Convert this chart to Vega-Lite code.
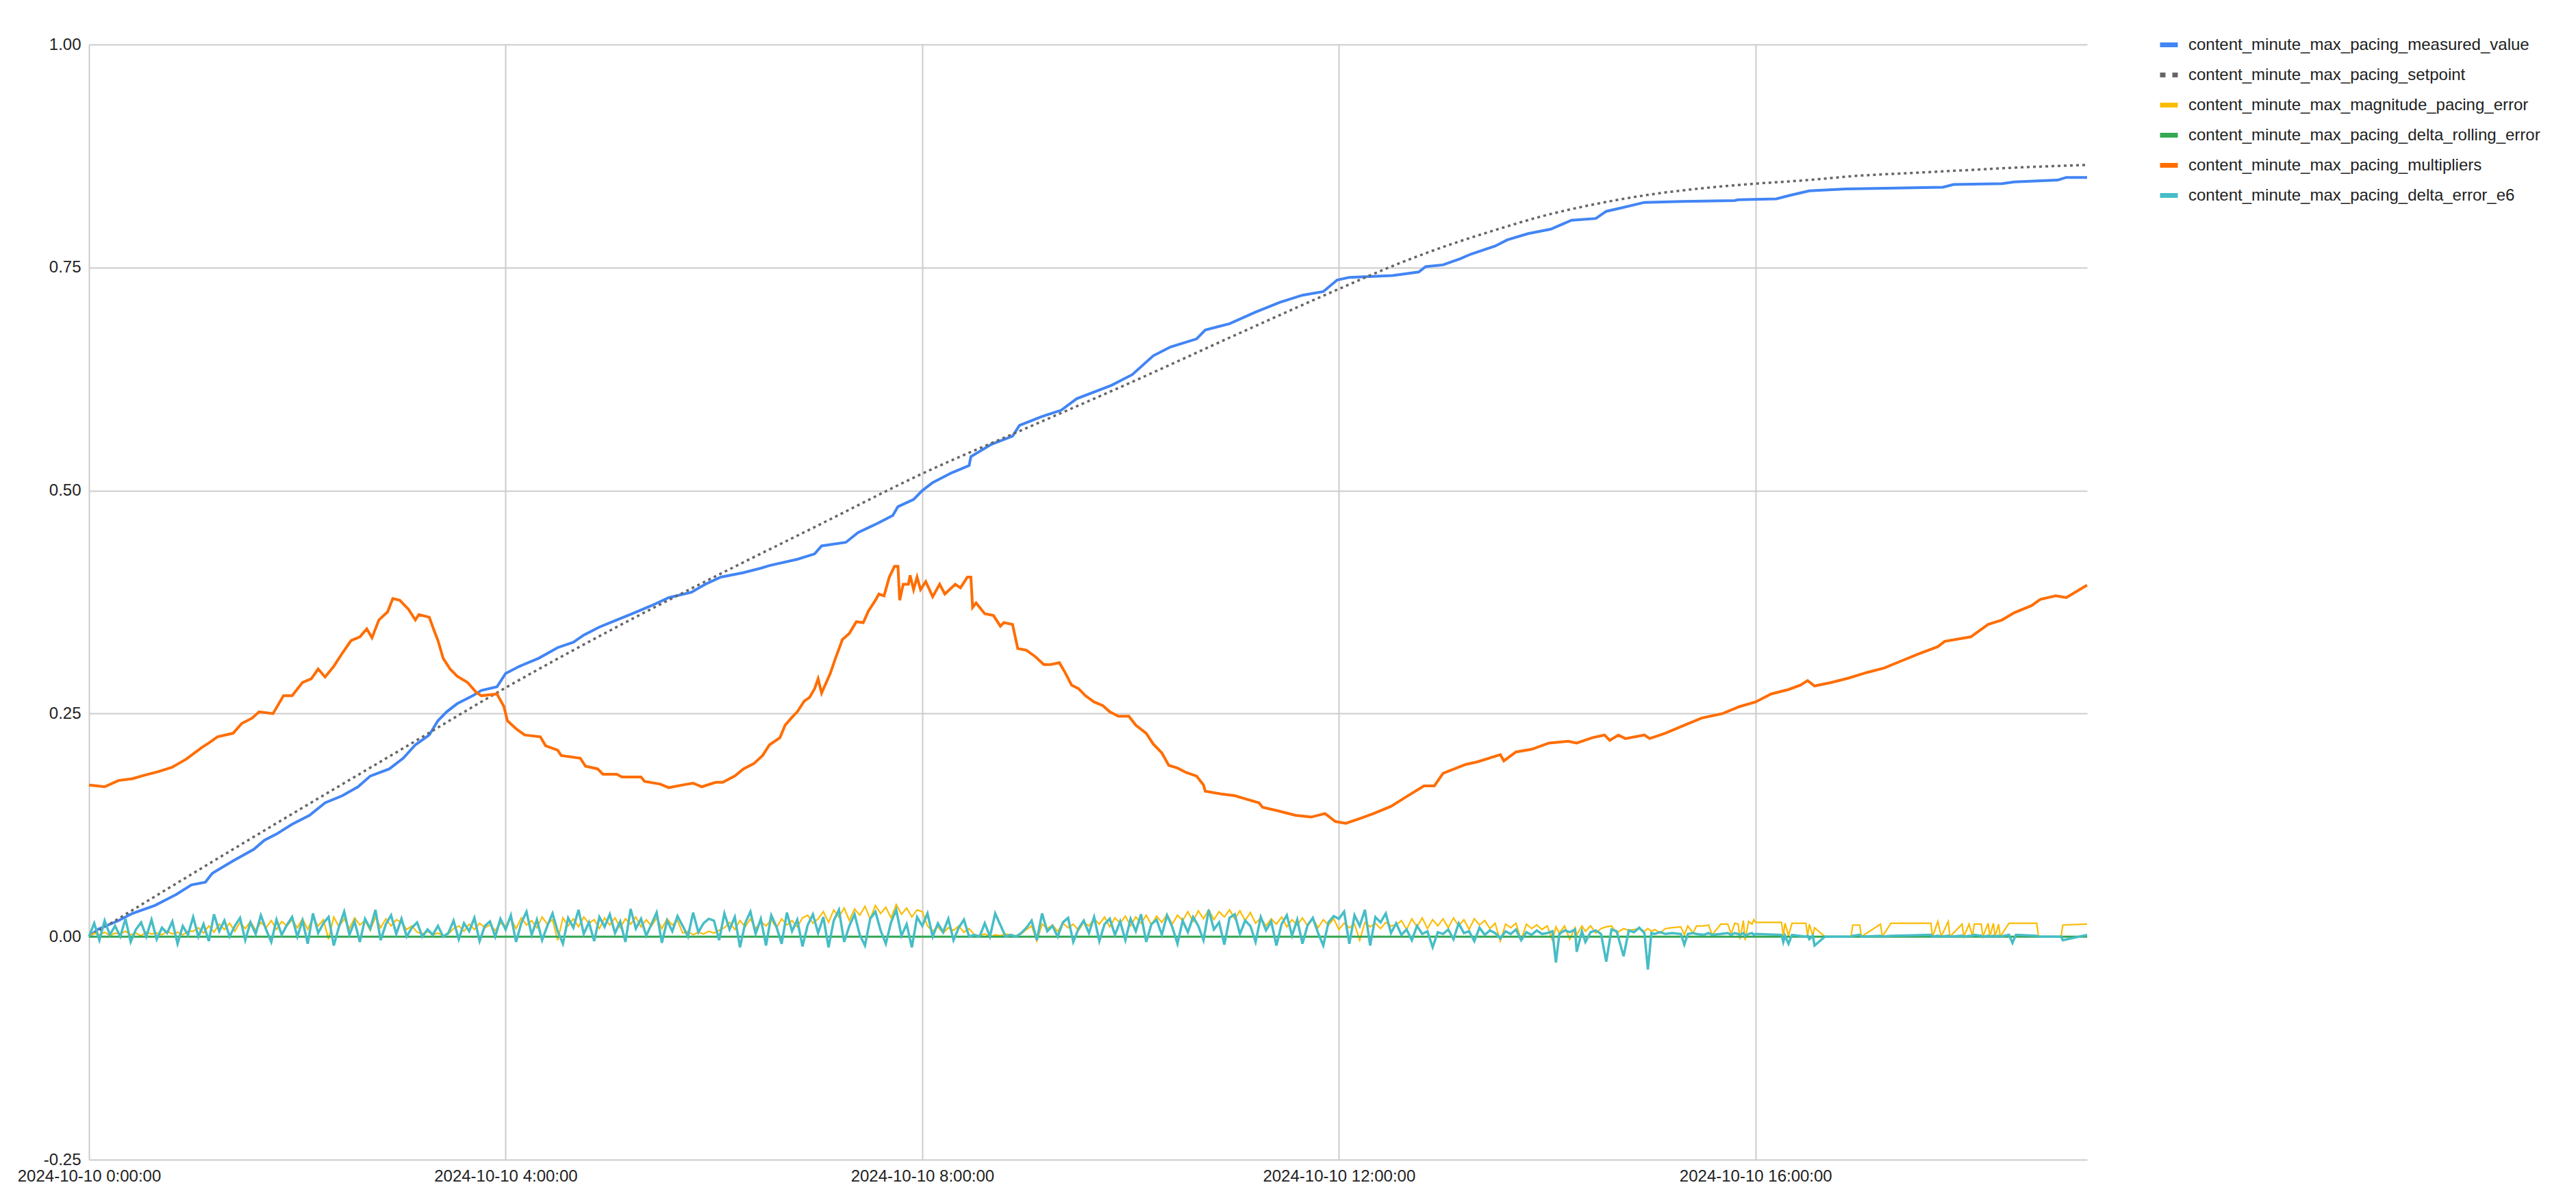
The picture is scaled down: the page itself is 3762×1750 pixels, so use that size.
{
  "$schema": "https://vega.github.io/schema/vega-lite/v6.json",
  "width": 2918,
  "height": 1629,
  "autosize": {"type": "none"},
  "padding": {"left": 130, "top": 65, "right": 714, "bottom": 56},
  "background": "white",
  "config": {
    "view": {"stroke": null},
    "font": "Liberation Sans",
    "locale": {"number": {"decimal": ".", "thousands": ",", "grouping": [3], "currency": ["$", ""], "minus": "-"}},
    "axis": {"labelFont": "Liberation Sans", "labelFontSize": 24, "labelColor": "#222222", "grid": true, "gridColor": "#cccccc", "gridWidth": 2, "domain": false, "ticks": false}
  },
  "datasets": {
    "mv": [
      {"t":"2024-10-10T00:00","v":0},{"t":"2024-10-10T00:05","v":0.008},{"t":"2024-10-10T00:17","v":0.018},{"t":"2024-10-10T00:25","v":0.026},{"t":"2024-10-10T00:38","v":0.035},{"t":"2024-10-10T00:50","v":0.047},{"t":"2024-10-10T00:59","v":0.058},{"t":"2024-10-10T01:07","v":0.061},{"t":"2024-10-10T01:11","v":0.071},{"t":"2024-10-10T01:23","v":0.085},{"t":"2024-10-10T01:35","v":0.098},{"t":"2024-10-10T01:41","v":0.108},{"t":"2024-10-10T01:48","v":0.115},{"t":"2024-10-10T01:57","v":0.126},{"t":"2024-10-10T02:07","v":0.136},{"t":"2024-10-10T02:16","v":0.15},{"t":"2024-10-10T02:26","v":0.158},{"t":"2024-10-10T02:35","v":0.168},{"t":"2024-10-10T02:42","v":0.18},{"t":"2024-10-10T02:53","v":0.188},{"t":"2024-10-10T03:01","v":0.2},{"t":"2024-10-10T03:08","v":0.215},{"t":"2024-10-10T03:16","v":0.226},{"t":"2024-10-10T03:21","v":0.242},{"t":"2024-10-10T03:26","v":0.252},{"t":"2024-10-10T03:32","v":0.261},{"t":"2024-10-10T03:41","v":0.27},{"t":"2024-10-10T03:46","v":0.276},{"t":"2024-10-10T03:55","v":0.28},{"t":"2024-10-10T04:00","v":0.295},{"t":"2024-10-10T04:08","v":0.303},{"t":"2024-10-10T04:19","v":0.312},{"t":"2024-10-10T04:30","v":0.324},{"t":"2024-10-10T04:39","v":0.33},{"t":"2024-10-10T04:45","v":0.338},{"t":"2024-10-10T04:54","v":0.347},{"t":"2024-10-10T05:04","v":0.355},{"t":"2024-10-10T05:13","v":0.362},{"t":"2024-10-10T05:24","v":0.371},{"t":"2024-10-10T05:34","v":0.38},{"t":"2024-10-10T05:47","v":0.386},{"t":"2024-10-10T05:55","v":0.395},{"t":"2024-10-10T06:04","v":0.403},{"t":"2024-10-10T06:17","v":0.408},{"t":"2024-10-10T06:27","v":0.413},{"t":"2024-10-10T06:32","v":0.416},{"t":"2024-10-10T06:48","v":0.423},{"t":"2024-10-10T06:58","v":0.429},{"t":"2024-10-10T07:02","v":0.438},{"t":"2024-10-10T07:16","v":0.442},{"t":"2024-10-10T07:23","v":0.453},{"t":"2024-10-10T07:34","v":0.463},{"t":"2024-10-10T07:43","v":0.472},{"t":"2024-10-10T07:46","v":0.482},{"t":"2024-10-10T07:55","v":0.49},{"t":"2024-10-10T08:00","v":0.5},{"t":"2024-10-10T08:06","v":0.509},{"t":"2024-10-10T08:17","v":0.52},{"t":"2024-10-10T08:27","v":0.528},{"t":"2024-10-10T08:28","v":0.538},{"t":"2024-10-10T08:40","v":0.552},{"t":"2024-10-10T08:52","v":0.561},{"t":"2024-10-10T08:56","v":0.573},{"t":"2024-10-10T09:09","v":0.583},{"t":"2024-10-10T09:20","v":0.59},{"t":"2024-10-10T09:29","v":0.603},{"t":"2024-10-10T09:49","v":0.618},{"t":"2024-10-10T10:01","v":0.63},{"t":"2024-10-10T10:13","v":0.651},{"t":"2024-10-10T10:23","v":0.661},{"t":"2024-10-10T10:38","v":0.67},{"t":"2024-10-10T10:43","v":0.68},{"t":"2024-10-10T10:57","v":0.687},{"t":"2024-10-10T11:12","v":0.7},{"t":"2024-10-10T11:26","v":0.711},{"t":"2024-10-10T11:39","v":0.719},{"t":"2024-10-10T11:51","v":0.723},{"t":"2024-10-10T11:59","v":0.736},{"t":"2024-10-10T12:06","v":0.739},{"t":"2024-10-10T12:31","v":0.741},{"t":"2024-10-10T12:46","v":0.745},{"t":"2024-10-10T12:50","v":0.751},{"t":"2024-10-10T13:00","v":0.753},{"t":"2024-10-10T13:10","v":0.76},{"t":"2024-10-10T13:16","v":0.765},{"t":"2024-10-10T13:30","v":0.774},{"t":"2024-10-10T13:37","v":0.781},{"t":"2024-10-10T13:49","v":0.788},{"t":"2024-10-10T14:02","v":0.793},{"t":"2024-10-10T14:14","v":0.803},{"t":"2024-10-10T14:28","v":0.805},{"t":"2024-10-10T14:34","v":0.813},{"t":"2024-10-10T14:43","v":0.817},{"t":"2024-10-10T14:56","v":0.823},{"t":"2024-10-10T15:18","v":0.824},{"t":"2024-10-10T15:48","v":0.825},{"t":"2024-10-10T15:50","v":0.826},{"t":"2024-10-10T16:12","v":0.827},{"t":"2024-10-10T16:20","v":0.831},{"t":"2024-10-10T16:31","v":0.836},{"t":"2024-10-10T16:52","v":0.838},{"t":"2024-10-10T17:48","v":0.84},{"t":"2024-10-10T17:54","v":0.843},{"t":"2024-10-10T18:22","v":0.844},{"t":"2024-10-10T18:29","v":0.846},{"t":"2024-10-10T18:54","v":0.848},{"t":"2024-10-10T18:59","v":0.851},{"t":"2024-10-10T19:11","v":0.851}
    ],
    "sp": [
      {"t":"2024-10-10T00:00","v":0},{"t":"2024-10-10T01:00","v":0.071},{"t":"2024-10-10T02:00","v":0.141},{"t":"2024-10-10T03:00","v":0.21},{"t":"2024-10-10T04:00","v":0.279},{"t":"2024-10-10T05:00","v":0.343},{"t":"2024-10-10T06:00","v":0.403},{"t":"2024-10-10T07:00","v":0.461},{"t":"2024-10-10T08:00","v":0.519},{"t":"2024-10-10T09:00","v":0.57},{"t":"2024-10-10T10:00","v":0.621},{"t":"2024-10-10T11:00","v":0.674},{"t":"2024-10-10T12:00","v":0.726},{"t":"2024-10-10T12:30","v":0.751},{"t":"2024-10-10T13:00","v":0.773},{"t":"2024-10-10T13:30","v":0.792},{"t":"2024-10-10T14:00","v":0.809},{"t":"2024-10-10T14:30","v":0.822},{"t":"2024-10-10T15:00","v":0.832},{"t":"2024-10-10T15:30","v":0.839},{"t":"2024-10-10T16:00","v":0.844},{"t":"2024-10-10T16:30","v":0.848},{"t":"2024-10-10T17:00","v":0.853},{"t":"2024-10-10T17:30","v":0.856},{"t":"2024-10-10T18:00","v":0.859},{"t":"2024-10-10T18:30","v":0.862},{"t":"2024-10-10T19:11","v":0.865}
    ],
    "mu": [
      {"t":"2024-10-10T00:00","v":0.17},{"t":"2024-10-10T00:09","v":0.168},{"t":"2024-10-10T00:17","v":0.175},{"t":"2024-10-10T00:25","v":0.177},{"t":"2024-10-10T00:32","v":0.181},{"t":"2024-10-10T00:40","v":0.185},{"t":"2024-10-10T00:48","v":0.19},{"t":"2024-10-10T00:56","v":0.199},{"t":"2024-10-10T01:05","v":0.212},{"t":"2024-10-10T01:09","v":0.217},{"t":"2024-10-10T01:14","v":0.224},{"t":"2024-10-10T01:23","v":0.228},{"t":"2024-10-10T01:28","v":0.239},{"t":"2024-10-10T01:34","v":0.245},{"t":"2024-10-10T01:38","v":0.252},{"t":"2024-10-10T01:46","v":0.25},{"t":"2024-10-10T01:52","v":0.27},{"t":"2024-10-10T01:57","v":0.27},{"t":"2024-10-10T02:03","v":0.285},{"t":"2024-10-10T02:08","v":0.289},{"t":"2024-10-10T02:12","v":0.3},{"t":"2024-10-10T02:16","v":0.291},{"t":"2024-10-10T02:21","v":0.303},{"t":"2024-10-10T02:26","v":0.318},{"t":"2024-10-10T02:31","v":0.332},{"t":"2024-10-10T02:36","v":0.336},{"t":"2024-10-10T02:40","v":0.345},{"t":"2024-10-10T02:43","v":0.335},{"t":"2024-10-10T02:47","v":0.355},{"t":"2024-10-10T02:52","v":0.364},{"t":"2024-10-10T02:55","v":0.379},{"t":"2024-10-10T02:59","v":0.377},{"t":"2024-10-10T03:04","v":0.367},{"t":"2024-10-10T03:08","v":0.355},{"t":"2024-10-10T03:10","v":0.361},{"t":"2024-10-10T03:16","v":0.358},{"t":"2024-10-10T03:19","v":0.342},{"t":"2024-10-10T03:21","v":0.332},{"t":"2024-10-10T03:24","v":0.312},{"t":"2024-10-10T03:28","v":0.3},{"t":"2024-10-10T03:32","v":0.292},{"t":"2024-10-10T03:38","v":0.285},{"t":"2024-10-10T03:43","v":0.274},{"t":"2024-10-10T03:46","v":0.27},{"t":"2024-10-10T03:55","v":0.272},{"t":"2024-10-10T03:59","v":0.258},{"t":"2024-10-10T04:01","v":0.242},{"t":"2024-10-10T04:06","v":0.233},{"t":"2024-10-10T04:11","v":0.226},{"t":"2024-10-10T04:20","v":0.224},{"t":"2024-10-10T04:23","v":0.214},{"t":"2024-10-10T04:30","v":0.209},{"t":"2024-10-10T04:32","v":0.203},{"t":"2024-10-10T04:43","v":0.2},{"t":"2024-10-10T04:46","v":0.191},{"t":"2024-10-10T04:53","v":0.188},{"t":"2024-10-10T04:56","v":0.182},{"t":"2024-10-10T05:04","v":0.182},{"t":"2024-10-10T05:07","v":0.179},{"t":"2024-10-10T05:18","v":0.179},{"t":"2024-10-10T05:20","v":0.174},{"t":"2024-10-10T05:29","v":0.171},{"t":"2024-10-10T05:34","v":0.167},{"t":"2024-10-10T05:42","v":0.17},{"t":"2024-10-10T05:48","v":0.172},{"t":"2024-10-10T05:53","v":0.168},{"t":"2024-10-10T06:01","v":0.173},{"t":"2024-10-10T06:05","v":0.173},{"t":"2024-10-10T06:12","v":0.18},{"t":"2024-10-10T06:17","v":0.188},{"t":"2024-10-10T06:23","v":0.194},{"t":"2024-10-10T06:28","v":0.203},{"t":"2024-10-10T06:32","v":0.215},{"t":"2024-10-10T06:38","v":0.223},{"t":"2024-10-10T06:41","v":0.237},{"t":"2024-10-10T06:45","v":0.246},{"t":"2024-10-10T06:48","v":0.252},{"t":"2024-10-10T06:52","v":0.264},{"t":"2024-10-10T06:55","v":0.268},{"t":"2024-10-10T06:58","v":0.278},{"t":"2024-10-10T07:00","v":0.289},{"t":"2024-10-10T07:02","v":0.273},{"t":"2024-10-10T07:07","v":0.295},{"t":"2024-10-10T07:10","v":0.312},{"t":"2024-10-10T07:14","v":0.333},{"t":"2024-10-10T07:18","v":0.34},{"t":"2024-10-10T07:22","v":0.353},{"t":"2024-10-10T07:26","v":0.352},{"t":"2024-10-10T07:29","v":0.365},{"t":"2024-10-10T07:33","v":0.377},{"t":"2024-10-10T07:35","v":0.384},{"t":"2024-10-10T07:38","v":0.382},{"t":"2024-10-10T07:41","v":0.403},{"t":"2024-10-10T07:44","v":0.415},{"t":"2024-10-10T07:46","v":0.415},{"t":"2024-10-10T07:47","v":0.377},{"t":"2024-10-10T07:49","v":0.395},{"t":"2024-10-10T07:52","v":0.395},{"t":"2024-10-10T07:53","v":0.405},{"t":"2024-10-10T07:55","v":0.389},{"t":"2024-10-10T07:57","v":0.403},{"t":"2024-10-10T07:59","v":0.389},{"t":"2024-10-10T08:02","v":0.398},{"t":"2024-10-10T08:06","v":0.381},{"t":"2024-10-10T08:10","v":0.395},{"t":"2024-10-10T08:13","v":0.384},{"t":"2024-10-10T08:19","v":0.395},{"t":"2024-10-10T08:22","v":0.391},{"t":"2024-10-10T08:26","v":0.403},{"t":"2024-10-10T08:28","v":0.403},{"t":"2024-10-10T08:29","v":0.369},{"t":"2024-10-10T08:31","v":0.374},{"t":"2024-10-10T08:36","v":0.362},{"t":"2024-10-10T08:41","v":0.36},{"t":"2024-10-10T08:45","v":0.348},{"t":"2024-10-10T08:47","v":0.352},{"t":"2024-10-10T08:52","v":0.35},{"t":"2024-10-10T08:55","v":0.323},{"t":"2024-10-10T09:00","v":0.321},{"t":"2024-10-10T09:05","v":0.314},{"t":"2024-10-10T09:10","v":0.305},{"t":"2024-10-10T09:14","v":0.305},{"t":"2024-10-10T09:19","v":0.307},{"t":"2024-10-10T09:22","v":0.297},{"t":"2024-10-10T09:26","v":0.282},{"t":"2024-10-10T09:30","v":0.278},{"t":"2024-10-10T09:34","v":0.27},{"t":"2024-10-10T09:39","v":0.263},{"t":"2024-10-10T09:44","v":0.259},{"t":"2024-10-10T09:48","v":0.252},{"t":"2024-10-10T09:53","v":0.247},{"t":"2024-10-10T09:59","v":0.247},{"t":"2024-10-10T10:03","v":0.237},{"t":"2024-10-10T10:09","v":0.228},{"t":"2024-10-10T10:13","v":0.216},{"t":"2024-10-10T10:18","v":0.206},{"t":"2024-10-10T10:22","v":0.192},{"t":"2024-10-10T10:27","v":0.189},{"t":"2024-10-10T10:32","v":0.184},{"t":"2024-10-10T10:38","v":0.18},{"t":"2024-10-10T10:42","v":0.17},{"t":"2024-10-10T10:43","v":0.163},{"t":"2024-10-10T10:52","v":0.16},{"t":"2024-10-10T11:00","v":0.158},{"t":"2024-10-10T11:05","v":0.155},{"t":"2024-10-10T11:14","v":0.15},{"t":"2024-10-10T11:16","v":0.145},{"t":"2024-10-10T11:25","v":0.141},{"t":"2024-10-10T11:35","v":0.136},{"t":"2024-10-10T11:44","v":0.134},{"t":"2024-10-10T11:52","v":0.138},{"t":"2024-10-10T11:58","v":0.129},{"t":"2024-10-10T12:04","v":0.127},{"t":"2024-10-10T12:13","v":0.133},{"t":"2024-10-10T12:20","v":0.138},{"t":"2024-10-10T12:30","v":0.146},{"t":"2024-10-10T12:39","v":0.157},{"t":"2024-10-10T12:49","v":0.169},{"t":"2024-10-10T12:55","v":0.169},{"t":"2024-10-10T13:00","v":0.183},{"t":"2024-10-10T13:13","v":0.193},{"t":"2024-10-10T13:20","v":0.196},{"t":"2024-10-10T13:33","v":0.204},{"t":"2024-10-10T13:35","v":0.197},{"t":"2024-10-10T13:42","v":0.207},{"t":"2024-10-10T13:51","v":0.21},{"t":"2024-10-10T14:01","v":0.217},{"t":"2024-10-10T14:12","v":0.219},{"t":"2024-10-10T14:17","v":0.217},{"t":"2024-10-10T14:26","v":0.223},{"t":"2024-10-10T14:33","v":0.226},{"t":"2024-10-10T14:36","v":0.22},{"t":"2024-10-10T14:41","v":0.226},{"t":"2024-10-10T14:45","v":0.222},{"t":"2024-10-10T14:56","v":0.226},{"t":"2024-10-10T14:59","v":0.222},{"t":"2024-10-10T15:08","v":0.228},{"t":"2024-10-10T15:19","v":0.237},{"t":"2024-10-10T15:29","v":0.245},{"t":"2024-10-10T15:41","v":0.25},{"t":"2024-10-10T15:51","v":0.258},{"t":"2024-10-10T16:00","v":0.263},{"t":"2024-10-10T16:09","v":0.272},{"t":"2024-10-10T16:19","v":0.277},{"t":"2024-10-10T16:26","v":0.282},{"t":"2024-10-10T16:30","v":0.287},{"t":"2024-10-10T16:34","v":0.281},{"t":"2024-10-10T16:44","v":0.285},{"t":"2024-10-10T16:54","v":0.29},{"t":"2024-10-10T17:04","v":0.296},{"t":"2024-10-10T17:14","v":0.301},{"t":"2024-10-10T17:24","v":0.309},{"t":"2024-10-10T17:34","v":0.317},{"t":"2024-10-10T17:45","v":0.325},{"t":"2024-10-10T17:49","v":0.331},{"t":"2024-10-10T18:04","v":0.336},{"t":"2024-10-10T18:14","v":0.35},{"t":"2024-10-10T18:22","v":0.355},{"t":"2024-10-10T18:29","v":0.363},{"t":"2024-10-10T18:39","v":0.371},{"t":"2024-10-10T18:44","v":0.378},{"t":"2024-10-10T18:53","v":0.382},{"t":"2024-10-10T18:59","v":0.38},{"t":"2024-10-10T19:11","v":0.394}
    ],
    "g": [
      {"t":"2024-10-10T00:00","v":0},{"t":"2024-10-10T19:11","v":0}
    ],
    "nz": [
      {"t":"2024-10-10T00:00","e":0,"d":0},{"t":"2024-10-10T00:03","e":0.004,"d":0.015},{"t":"2024-10-10T00:06","e":0.002,"d":-0.004},{"t":"2024-10-10T00:09","e":0.005,"d":0.018},{"t":"2024-10-10T00:12","e":0.001,"d":0.002},{"t":"2024-10-10T00:15","e":0.004,"d":0.012},{"t":"2024-10-10T00:18","e":0.003,"d":0},{"t":"2024-10-10T00:21","e":0.006,"d":0.02},{"t":"2024-10-10T00:24","e":0.002,"d":-0.006},{"t":"2024-10-10T00:27","e":0.004,"d":0.008},{"t":"2024-10-10T00:30","e":0.001,"d":0.016},{"t":"2024-10-10T00:33","e":0.005,"d":0},{"t":"2024-10-10T00:36","e":0.003,"d":0.019},{"t":"2024-10-10T00:39","e":0.004,"d":-0.003},{"t":"2024-10-10T00:42","e":0.002,"d":0.01},{"t":"2024-10-10T00:45","e":0.006,"d":0.004},{"t":"2024-10-10T00:48","e":0.003,"d":0.017},{"t":"2024-10-10T00:51","e":0.005,"d":-0.008},{"t":"2024-10-10T00:54","e":0.002,"d":0.012},{"t":"2024-10-10T00:57","e":0.006,"d":0.002},
      {"t":"2024-10-10T01:00","e":0.006,"d":0.022},{"t":"2024-10-10T01:03","e":0.01,"d":0},{"t":"2024-10-10T01:06","e":0.004,"d":0.014},{"t":"2024-10-10T01:09","e":0.012,"d":-0.005},{"t":"2024-10-10T01:12","e":0.005,"d":0.025},{"t":"2024-10-10T01:15","e":0.014,"d":0.006},{"t":"2024-10-10T01:18","e":0.008,"d":0.018},{"t":"2024-10-10T01:21","e":0.015,"d":0},{"t":"2024-10-10T01:24","e":0.006,"d":0.012},{"t":"2024-10-10T01:27","e":0.016,"d":0.021},{"t":"2024-10-10T01:30","e":0.009,"d":-0.004},{"t":"2024-10-10T01:33","e":0.017,"d":0.016},{"t":"2024-10-10T01:36","e":0.007,"d":0.003},{"t":"2024-10-10T01:39","e":0.016,"d":0.024},{"t":"2024-10-10T01:42","e":0.01,"d":0.008},{"t":"2024-10-10T01:45","e":0.018,"d":-0.006},{"t":"2024-10-10T01:48","e":0.008,"d":0.019},{"t":"2024-10-10T01:51","e":0.017,"d":0.002},{"t":"2024-10-10T01:54","e":0.012,"d":0.013},{"t":"2024-10-10T01:57","e":0.019,"d":0.022},
      {"t":"2024-10-10T02:00","e":0.01,"d":0},{"t":"2024-10-10T02:03","e":0.02,"d":0.018},{"t":"2024-10-10T02:06","e":0.008,"d":-0.008},{"t":"2024-10-10T02:09","e":0.021,"d":0.026},{"t":"2024-10-10T02:12","e":0.012,"d":0.004},{"t":"2024-10-10T02:15","e":0.019,"d":0.015},{"t":"2024-10-10T02:18","e":-0.003,"d":0.022},{"t":"2024-10-10T02:21","e":0.022,"d":-0.01},{"t":"2024-10-10T02:24","e":0.011,"d":0.011},{"t":"2024-10-10T02:27","e":0.02,"d":0.028},{"t":"2024-10-10T02:30","e":0.009,"d":0.002},{"t":"2024-10-10T02:33","e":0.021,"d":0.017},{"t":"2024-10-10T02:36","e":0.013,"d":-0.006},{"t":"2024-10-10T02:39","e":0.018,"d":0.02},{"t":"2024-10-10T02:42","e":0.007,"d":0.009},{"t":"2024-10-10T02:45","e":0.022,"d":0.03},{"t":"2024-10-10T02:48","e":0.01,"d":-0.004},{"t":"2024-10-10T02:51","e":0.02,"d":0.014},{"t":"2024-10-10T02:54","e":0.012,"d":0.024},{"t":"2024-10-10T02:57","e":0.019,"d":0.003},
      {"t":"2024-10-10T03:00","e":0.016,"d":0.02},{"t":"2024-10-10T03:03","e":0.008,"d":0},{"t":"2024-10-10T03:06","e":0.012,"d":0.01},{"t":"2024-10-10T03:09","e":0.005,"d":0.016},{"t":"2024-10-10T03:12","e":0.003,"d":0},{"t":"2024-10-10T03:15","e":0.006,"d":0.008},{"t":"2024-10-10T03:18","e":0.002,"d":0.002},{"t":"2024-10-10T03:21","e":0.004,"d":0.012},{"t":"2024-10-10T03:24","e":0.001,"d":0},{"t":"2024-10-10T03:27","e":0.003,"d":0.004},{"t":"2024-10-10T03:30","e":0.009,"d":0.018},{"t":"2024-10-10T03:33","e":0.012,"d":-0.003},{"t":"2024-10-10T03:36","e":0.006,"d":0.015},{"t":"2024-10-10T03:39","e":0.014,"d":0.006},{"t":"2024-10-10T03:42","e":0.008,"d":0.021},{"t":"2024-10-10T03:45","e":0.015,"d":-0.005},{"t":"2024-10-10T03:48","e":0.01,"d":0.012},{"t":"2024-10-10T03:51","e":0.013,"d":0.017},{"t":"2024-10-10T03:54","e":0.007,"d":0},{"t":"2024-10-10T03:57","e":0.015,"d":0.02},
      {"t":"2024-10-10T04:00","e":0.012,"d":0.008},{"t":"2024-10-10T04:03","e":0.02,"d":0.024},{"t":"2024-10-10T04:06","e":0.009,"d":-0.006},{"t":"2024-10-10T04:09","e":0.021,"d":0.015},{"t":"2024-10-10T04:12","e":0.013,"d":0.028},{"t":"2024-10-10T04:15","e":0.018,"d":0.002},{"t":"2024-10-10T04:18","e":0.01,"d":0.019},{"t":"2024-10-10T04:21","e":0.022,"d":-0.004},{"t":"2024-10-10T04:24","e":0.014,"d":0.012},{"t":"2024-10-10T04:27","e":0.019,"d":0.026},{"t":"2024-10-10T04:30","e":-0.004,"d":0.006},{"t":"2024-10-10T04:33","e":0.021,"d":-0.008},{"t":"2024-10-10T04:36","e":0.012,"d":0.021},{"t":"2024-10-10T04:39","e":0.02,"d":0.01},{"t":"2024-10-10T04:42","e":0.011,"d":0.03},{"t":"2024-10-10T04:45","e":0.022,"d":0.003},{"t":"2024-10-10T04:48","e":0.015,"d":0.016},{"t":"2024-10-10T04:51","e":0.019,"d":-0.005},{"t":"2024-10-10T04:54","e":0.009,"d":0.022},{"t":"2024-10-10T04:57","e":0.021,"d":0.011},
      {"t":"2024-10-10T05:00","e":0.013,"d":0.025},{"t":"2024-10-10T05:03","e":0.021,"d":0.004},{"t":"2024-10-10T05:06","e":0.01,"d":0.017},{"t":"2024-10-10T05:09","e":0.02,"d":-0.006},{"t":"2024-10-10T05:12","e":0.014,"d":0.031},{"t":"2024-10-10T05:15","e":0.022,"d":0.009},{"t":"2024-10-10T05:18","e":0.011,"d":0.02},{"t":"2024-10-10T05:21","e":0.019,"d":0.001},{"t":"2024-10-10T05:24","e":0.012,"d":0.014},{"t":"2024-10-10T05:27","e":0.021,"d":0.027},{"t":"2024-10-10T05:30","e":0.009,"d":-0.007},{"t":"2024-10-10T05:33","e":0.02,"d":0.018},{"t":"2024-10-10T05:36","e":0.013,"d":0.006},{"t":"2024-10-10T05:39","e":0.018,"d":0.023},{"t":"2024-10-10T05:42","e":0.004,"d":0.012},{"t":"2024-10-10T05:45","e":0.006,"d":0},{"t":"2024-10-10T05:48","e":0.002,"d":0.027},{"t":"2024-10-10T05:51","e":0.005,"d":0.005},{"t":"2024-10-10T05:54","e":0.003,"d":0.015},{"t":"2024-10-10T05:57","e":0.006,"d":0.02},
      {"t":"2024-10-10T06:00","e":0.004,"d":0.018},{"t":"2024-10-10T06:03","e":0.007,"d":-0.004},{"t":"2024-10-10T06:06","e":0.01,"d":0.026},{"t":"2024-10-10T06:09","e":0.016,"d":0.008},{"t":"2024-10-10T06:12","e":0.008,"d":0.022},{"t":"2024-10-10T06:15","e":0.018,"d":-0.012},{"t":"2024-10-10T06:18","e":0.011,"d":0.015},{"t":"2024-10-10T06:21","e":0.02,"d":0.028},{"t":"2024-10-10T06:24","e":0.009,"d":0.003},{"t":"2024-10-10T06:27","e":0.017,"d":0.02},{"t":"2024-10-10T06:30","e":0.012,"d":-0.01},{"t":"2024-10-10T06:33","e":0.019,"d":0.024},{"t":"2024-10-10T06:36","e":0.01,"d":0.011},{"t":"2024-10-10T06:39","e":0.02,"d":-0.008},{"t":"2024-10-10T06:42","e":0.013,"d":0.027},{"t":"2024-10-10T06:45","e":0.018,"d":0.006},{"t":"2024-10-10T06:48","e":0.011,"d":0.019},{"t":"2024-10-10T06:51","e":0.021,"d":-0.011},{"t":"2024-10-10T06:54","e":0.024,"d":0.013},{"t":"2024-10-10T06:57","e":0.015,"d":0.025},
      {"t":"2024-10-10T07:00","e":0.02,"d":0.004},{"t":"2024-10-10T07:03","e":0.028,"d":0.022},{"t":"2024-10-10T07:06","e":0.016,"d":-0.012},{"t":"2024-10-10T07:09","e":0.03,"d":0.018},{"t":"2024-10-10T07:12","e":0.022,"d":0.03},{"t":"2024-10-10T07:15","e":0.032,"d":-0.006},{"t":"2024-10-10T07:18","e":0.018,"d":0.012},{"t":"2024-10-10T07:21","e":0.031,"d":0.025},{"t":"2024-10-10T07:24","e":0.024,"d":0.002},{"t":"2024-10-10T07:27","e":0.034,"d":-0.01},{"t":"2024-10-10T07:30","e":0.02,"d":0.02},{"t":"2024-10-10T07:33","e":0.035,"d":0.028},{"t":"2024-10-10T07:36","e":0.026,"d":0.007},{"t":"2024-10-10T07:39","e":0.033,"d":-0.008},{"t":"2024-10-10T07:42","e":0.021,"d":0.016},{"t":"2024-10-10T07:45","e":0.036,"d":0.03},{"t":"2024-10-10T07:48","e":0.025,"d":0.001},{"t":"2024-10-10T07:51","e":0.032,"d":0.014},{"t":"2024-10-10T07:54","e":0.022,"d":-0.012},{"t":"2024-10-10T07:57","e":0.03,"d":0.022},
      {"t":"2024-10-10T08:00","e":0.028,"d":0.012},{"t":"2024-10-10T08:03","e":0.012,"d":0.026},{"t":"2024-10-10T08:06","e":0.006,"d":0},{"t":"2024-10-10T08:09","e":0.011,"d":0.015},{"t":"2024-10-10T08:12","e":0.004,"d":0.005},{"t":"2024-10-10T08:15","e":0.01,"d":0.02},{"t":"2024-10-10T08:18","e":0.007,"d":-0.004},{"t":"2024-10-10T08:21","e":0.012,"d":0.01},{"t":"2024-10-10T08:24","e":0.005,"d":0.019},{"t":"2024-10-10T08:27","e":0.009,"d":0},{"t":"2024-10-10T08:30","e":0.002,"d":0.002},{"t":"2024-10-10T08:33","e":0.001,"d":0},{"t":"2024-10-10T08:36","e":0.003,"d":0.015},{"t":"2024-10-10T08:39","e":0,"d":0},{"t":"2024-10-10T08:42","e":0.002,"d":0.026},{"t":"2024-10-10T08:45","e":0.001,"d":0.013},{"t":"2024-10-10T08:48","e":0.003,"d":0},{"t":"2024-10-10T08:51","e":0.002,"d":0.002},{"t":"2024-10-10T08:54","e":0.001,"d":0},{"t":"2024-10-10T08:57","e":0.003,"d":0.004},
      {"t":"2024-10-10T09:00","e":0.008,"d":0.01},{"t":"2024-10-10T09:03","e":0.012,"d":0.018},{"t":"2024-10-10T09:06","e":-0.005,"d":-0.004},{"t":"2024-10-10T09:09","e":0.014,"d":0.026},{"t":"2024-10-10T09:12","e":0.009,"d":0.006},{"t":"2024-10-10T09:15","e":0.013,"d":0.012},{"t":"2024-10-10T09:18","e":0.006,"d":0},{"t":"2024-10-10T09:21","e":0.015,"d":0.016},{"t":"2024-10-10T09:24","e":0.01,"d":0.021},{"t":"2024-10-10T09:27","e":0.014,"d":-0.006},{"t":"2024-10-10T09:30","e":0.007,"d":0.009},{"t":"2024-10-10T09:33","e":0.016,"d":0.018},{"t":"2024-10-10T09:36","e":0.012,"d":0.004},{"t":"2024-10-10T09:39","e":0.02,"d":0.022},{"t":"2024-10-10T09:42","e":0.014,"d":-0.005},{"t":"2024-10-10T09:45","e":0.022,"d":0.014},{"t":"2024-10-10T09:48","e":0.011,"d":0.02},{"t":"2024-10-10T09:51","e":0.021,"d":0.002},{"t":"2024-10-10T09:54","e":0.015,"d":0.017},{"t":"2024-10-10T09:57","e":0.023,"d":-0.004},
      {"t":"2024-10-10T10:00","e":0.012,"d":0.02},{"t":"2024-10-10T10:03","e":0.022,"d":0.006},{"t":"2024-10-10T10:06","e":0.015,"d":0.025},{"t":"2024-10-10T10:09","e":0.024,"d":-0.006},{"t":"2024-10-10T10:12","e":0.013,"d":0.014},{"t":"2024-10-10T10:15","e":0.023,"d":0.019},{"t":"2024-10-10T10:18","e":0.016,"d":0.002},{"t":"2024-10-10T10:21","e":0.025,"d":0.024},{"t":"2024-10-10T10:24","e":0.014,"d":0.011},{"t":"2024-10-10T10:27","e":0.024,"d":-0.008},{"t":"2024-10-10T10:30","e":0.018,"d":0.018},{"t":"2024-10-10T10:33","e":0.028,"d":0.005},{"t":"2024-10-10T10:36","e":0.017,"d":0.022},{"t":"2024-10-10T10:39","e":0.029,"d":0.012},{"t":"2024-10-10T10:42","e":0.02,"d":-0.004},{"t":"2024-10-10T10:45","e":0.03,"d":0.03},{"t":"2024-10-10T10:48","e":0.019,"d":0.008},{"t":"2024-10-10T10:51","e":0.028,"d":0.016},{"t":"2024-10-10T10:54","e":0.022,"d":-0.009},{"t":"2024-10-10T10:57","e":0.03,"d":0.021},
      {"t":"2024-10-10T11:00","e":0.02,"d":0.025},{"t":"2024-10-10T11:03","e":0.029,"d":0.003},{"t":"2024-10-10T11:06","e":0.018,"d":0.018},{"t":"2024-10-10T11:09","e":0.027,"d":0.012},{"t":"2024-10-10T11:12","e":0.015,"d":-0.006},{"t":"2024-10-10T11:15","e":0.021,"d":0.022},{"t":"2024-10-10T11:18","e":0.012,"d":0.007},{"t":"2024-10-10T11:21","e":0.02,"d":0.017},{"t":"2024-10-10T11:24","e":0.014,"d":-0.01},{"t":"2024-10-10T11:27","e":0.022,"d":0.014},{"t":"2024-10-10T11:30","e":0.011,"d":0.024},{"t":"2024-10-10T11:33","e":0.019,"d":0.001},{"t":"2024-10-10T11:36","e":0.013,"d":0.019},{"t":"2024-10-10T11:39","e":0.021,"d":-0.008},{"t":"2024-10-10T11:42","e":0.012,"d":0.013},{"t":"2024-10-10T11:45","e":0.02,"d":0.021},{"t":"2024-10-10T11:48","e":0.01,"d":0.004},{"t":"2024-10-10T11:51","e":0.019,"d":-0.01},{"t":"2024-10-10T11:54","e":0.013,"d":0.016},{"t":"2024-10-10T11:57","e":0.02,"d":0.023},
      {"t":"2024-10-10T12:00","e":0.008,"d":0.02},{"t":"2024-10-10T12:03","e":0.015,"d":0.028},{"t":"2024-10-10T12:06","e":0.01,"d":-0.008},{"t":"2024-10-10T12:09","e":0.014,"d":0.024},{"t":"2024-10-10T12:12","e":-0.004,"d":0.012},{"t":"2024-10-10T12:15","e":0.016,"d":0.03},{"t":"2024-10-10T12:18","e":0.011,"d":-0.01},{"t":"2024-10-10T12:21","e":0.015,"d":0.022},{"t":"2024-10-10T12:24","e":0.009,"d":0.016},{"t":"2024-10-10T12:27","e":0.016,"d":0.026},{"t":"2024-10-10T12:30","e":0.012,"d":0.004},{"t":"2024-10-10T12:33","e":0.013,"d":0.015},{"t":"2024-10-10T12:36","e":0.018,"d":0.002},{"t":"2024-10-10T12:39","e":0.008,"d":0.008},{"t":"2024-10-10T12:42","e":0.02,"d":-0.004},{"t":"2024-10-10T12:45","e":0.011,"d":0.012},{"t":"2024-10-10T12:48","e":0.021,"d":0.003},{"t":"2024-10-10T12:51","e":0.009,"d":0.006},{"t":"2024-10-10T12:54","e":0.019,"d":-0.012},{"t":"2024-10-10T12:57","e":0.012,"d":0.005},
      {"t":"2024-10-10T13:00","e":0.02,"d":0.003},{"t":"2024-10-10T13:03","e":0.01,"d":0.008},{"t":"2024-10-10T13:06","e":0.021,"d":-0.003},{"t":"2024-10-10T13:09","e":0.012,"d":0.015},{"t":"2024-10-10T13:12","e":0.019,"d":0.004},{"t":"2024-10-10T13:15","e":0.008,"d":0.006},{"t":"2024-10-10T13:18","e":0.02,"d":-0.005},{"t":"2024-10-10T13:21","e":0.013,"d":0.01},{"t":"2024-10-10T13:24","e":0.018,"d":0.002},{"t":"2024-10-10T13:27","e":0.009,"d":0.007},{"t":"2024-10-10T13:30","e":0.015,"d":0.004},{"t":"2024-10-10T13:33","e":-0.005,"d":-0.002},{"t":"2024-10-10T13:36","e":0.014,"d":0.006},{"t":"2024-10-10T13:39","e":0.01,"d":0.003},{"t":"2024-10-10T13:42","e":0.015,"d":0.008},{"t":"2024-10-10T13:45","e":-0.004,"d":-0.004},{"t":"2024-10-10T13:48","e":0.014,"d":0.005},{"t":"2024-10-10T13:51","e":0.009,"d":0.002},{"t":"2024-10-10T13:54","e":0.013,"d":0.007},{"t":"2024-10-10T13:57","e":0.008,"d":0.003},
      {"t":"2024-10-10T14:00","e":0.012,"d":0.004},{"t":"2024-10-10T14:03","e":-0.004,"d":0.006},{"t":"2024-10-10T14:05","e":0.011,"d":-0.029},{"t":"2024-10-10T14:07","e":0.004,"d":0.003},{"t":"2024-10-10T14:10","e":0.012,"d":0.007},{"t":"2024-10-10T14:13","e":-0.003,"d":0.005},{"t":"2024-10-10T14:16","e":0.01,"d":0.008},{"t":"2024-10-10T14:17","e":0.002,"d":-0.017},{"t":"2024-10-10T14:20","e":0.012,"d":0.006},{"t":"2024-10-10T14:22","e":0.006,"d":-0.006},{"t":"2024-10-10T14:25","e":0.012,"d":0.005},{"t":"2024-10-10T14:28","e":0.004,"d":0.007},{"t":"2024-10-10T14:31","e":0.009,"d":0.003},{"t":"2024-10-10T14:34","e":0.011,"d":-0.028},{"t":"2024-10-10T14:37","e":0.012,"d":0.008},{"t":"2024-10-10T14:40","e":0.004,"d":0.006},{"t":"2024-10-10T14:44","e":0.009,"d":-0.022},{"t":"2024-10-10T14:47","e":0.007,"d":0.007},{"t":"2024-10-10T14:50","e":0.008,"d":0.005},{"t":"2024-10-10T14:53","e":0.009,"d":0.01},{"t":"2024-10-10T14:56","e":0.006,"d":0.004},{"t":"2024-10-10T14:58","e":0.009,"d":-0.037},
      {"t":"2024-10-10T15:00","e":0.006,"d":0.004},{"t":"2024-10-10T15:02","e":0.008,"d":0.003},{"t":"2024-10-10T15:05","e":0.004,"d":0.005},{"t":"2024-10-10T15:08","e":0.009,"d":0.003},{"t":"2024-10-10T15:12","e":0.01,"d":0.004},{"t":"2024-10-10T15:17","e":0.011,"d":0.003},{"t":"2024-10-10T15:19","e":0.002,"d":-0.009},{"t":"2024-10-10T15:21","e":0.012,"d":0.003},{"t":"2024-10-10T15:24","e":0.004,"d":0.004},{"t":"2024-10-10T15:26","e":0.012,"d":0.003},{"t":"2024-10-10T15:30","e":0.012,"d":0.002},{"t":"2024-10-10T15:33","e":0.013,"d":0.004},{"t":"2024-10-10T15:35","e":0.002,"d":0.002},{"t":"2024-10-10T15:40","e":0.014,"d":0.003},{"t":"2024-10-10T15:44","e":0.014,"d":0.004},{"t":"2024-10-10T15:46","e":0.003,"d":0.002},{"t":"2024-10-10T15:48","e":0.015,"d":0.004},{"t":"2024-10-10T15:50","e":0.014,"d":0.003},{"t":"2024-10-10T15:51","e":-0.003,"d":0.002},{"t":"2024-10-10T15:53","e":0.018,"d":0.004},{"t":"2024-10-10T15:54","e":-0.004,"d":0.001},{"t":"2024-10-10T15:56","e":0.017,"d":0.003},{"t":"2024-10-10T15:58","e":0.014,"d":0.004},{"t":"2024-10-10T15:59","e":0.019,"d":0.002},
      {"t":"2024-10-10T16:00","e":0.016,"d":0.003},{"t":"2024-10-10T16:15","e":0.016,"d":0.002},{"t":"2024-10-10T16:16","e":0.001,"d":-0.006},{"t":"2024-10-10T16:17","e":0.015,"d":0.001},{"t":"2024-10-10T16:19","e":0.001,"d":-0.008},{"t":"2024-10-10T16:21","e":0.015,"d":0.002},{"t":"2024-10-10T16:29","e":0.015,"d":0},{"t":"2024-10-10T16:30","e":0.001,"d":0.001},{"t":"2024-10-10T16:31","e":0.014,"d":-0.003},{"t":"2024-10-10T16:33","e":0.001,"d":0.001},{"t":"2024-10-10T16:34","e":0.01,"d":-0.01},{"t":"2024-10-10T16:40","e":0,"d":0},{"t":"2024-10-10T16:55","e":0,"d":0},{"t":"2024-10-10T16:56","e":0.013,"d":0.001},{"t":"2024-10-10T17:00","e":0.013,"d":0.002},{"t":"2024-10-10T17:01","e":0,"d":0},{"t":"2024-10-10T17:12","e":0.014,"d":0.001},{"t":"2024-10-10T17:13","e":0,"d":0},{"t":"2024-10-10T17:18","e":0.015,"d":0.001},{"t":"2024-10-10T17:41","e":0.015,"d":0.002},{"t":"2024-10-10T17:42","e":0,"d":0},{"t":"2024-10-10T17:45","e":0.017,"d":0.001},{"t":"2024-10-10T17:47","e":0,"d":0},{"t":"2024-10-10T17:51","e":0.017,"d":0.001},{"t":"2024-10-10T17:52","e":0,"d":0},{"t":"2024-10-10T17:59","e":0.014,"d":0.001},{"t":"2024-10-10T18:00","e":0,"d":0},{"t":"2024-10-10T18:03","e":0.014,"d":0.001},{"t":"2024-10-10T18:05","e":0,"d":0.001},{"t":"2024-10-10T18:06","e":0.014,"d":0.002},{"t":"2024-10-10T18:10","e":0.014,"d":0.001},{"t":"2024-10-10T18:11","e":0,"d":0},{"t":"2024-10-10T18:14","e":0.015,"d":0.001},{"t":"2024-10-10T18:15","e":0,"d":0},{"t":"2024-10-10T18:17","e":0.015,"d":0.001},{"t":"2024-10-10T18:18","e":0,"d":0},{"t":"2024-10-10T18:20","e":0.014,"d":0.001},{"t":"2024-10-10T18:21","e":0,"d":0},{"t":"2024-10-10T18:26","e":0.015,"d":0.002},{"t":"2024-10-10T18:28","e":0.015,"d":-0.007},{"t":"2024-10-10T18:30","e":0.015,"d":0.002},{"t":"2024-10-10T18:42","e":0.015,"d":0.001},{"t":"2024-10-10T18:43","e":0,"d":0},{"t":"2024-10-10T18:56","e":0,"d":0},{"t":"2024-10-10T18:57","e":0.013,"d":-0.004},{"t":"2024-10-10T19:11","e":0.014,"d":0.002}
    ]
  },
  "encoding": {
    "x": {
      "field": "t", "type": "temporal", "title": null,
      "scale": {"nice": false},
      "axis": {
        "values": [
          {"year": 2024, "month": 10, "date": 10, "hours": 0},
          {"year": 2024, "month": 10, "date": 10, "hours": 4},
          {"year": 2024, "month": 10, "date": 10, "hours": 8},
          {"year": 2024, "month": 10, "date": 10, "hours": 12},
          {"year": 2024, "month": 10, "date": 10, "hours": 16}
        ],
        "format": "%Y-%m-%d %-H:%M:%S",
        "labelFlush": false, "labelPadding": 12, "labelLimit": 400
      }
    },
    "y": {
      "field": "v", "type": "quantitative", "title": null,
      "scale": {"domain": [-0.25, 1], "nice": false, "zero": false},
      "axis": {"values": [-0.25, 0, 0.25, 0.5, 0.75, 1], "format": ".2f", "labelPadding": 12}
    }
  },
  "layer": [
    {
      "data": {"name": "mv"},
      "mark": {"type": "line", "strokeWidth": 4},
      "encoding": {
        "color": {
          "datum": "content_minute_max_pacing_measured_value",
          "scale": {
            "domain": ["content_minute_max_pacing_measured_value", "content_minute_max_pacing_setpoint", "content_minute_max_magnitude_pacing_error", "content_minute_max_pacing_delta_rolling_error", "content_minute_max_pacing_multipliers", "content_minute_max_pacing_delta_error_e6"],
            "range": ["#4285F4", "#666666", "#FBBC04", "#34A853", "#FF6D01", "#46BDC6"]
          },
          "legend": {
            "orient": "none", "legendX": 3021, "legendY": -16, "title": null,
            "labelFontSize": 24, "labelColor": "#222222", "labelLimit": 1000,
            "symbolType": "stroke", "symbolStrokeWidth": 7, "symbolSize": 676, "rowPadding": 13, "labelOffset": 12,
            "encode": {"symbols": {"update": {"strokeDash": {"signal": "datum.value == 'content_minute_max_pacing_setpoint' ? [8, 10] : [1, 0]"}}}}
          }
        }
      }
    },
    {
      "data": {"name": "sp"},
      "mark": {"type": "line", "strokeWidth": 3.5, "strokeDash": [4, 5], "interpolate": "monotone"},
      "encoding": {"color": {"datum": "content_minute_max_pacing_setpoint"}}
    },
    {
      "data": {"name": "nz"},
      "mark": {"type": "line", "strokeWidth": 2.2},
      "encoding": {
        "y": {"field": "e", "type": "quantitative", "title": null},
        "color": {"datum": "content_minute_max_magnitude_pacing_error"}
      }
    },
    {
      "data": {"name": "g"},
      "mark": {"type": "line", "strokeWidth": 3},
      "encoding": {"color": {"datum": "content_minute_max_pacing_delta_rolling_error"}}
    },
    {
      "data": {"name": "mu"},
      "mark": {"type": "line", "strokeWidth": 4},
      "encoding": {"color": {"datum": "content_minute_max_pacing_multipliers"}}
    },
    {
      "data": {"name": "nz"},
      "mark": {"type": "line", "strokeWidth": 3.5},
      "encoding": {
        "y": {"field": "d", "type": "quantitative", "title": null},
        "color": {"datum": "content_minute_max_pacing_delta_error_e6"}
      }
    }
  ]
}
